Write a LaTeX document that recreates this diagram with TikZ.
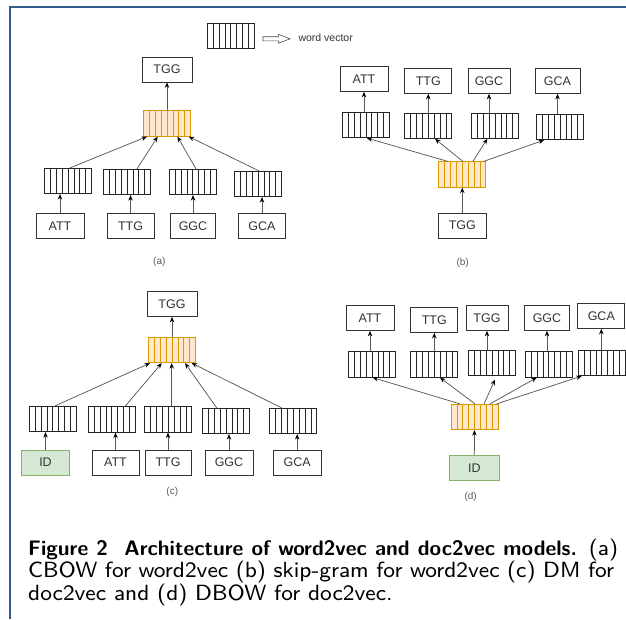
\documentclass[tikz,border=0pt]{standalone}
\usepackage{fontspec}
\newfontfamily\dfont{Liberation Sans}
\newfontfamily\capfont{lmsans8-regular.otf}[BoldFont=lmsans10-bold.otf]
\usetikzlibrary{arrows.meta,calc}
\definecolor{frameBlue}{RGB}{52,92,140}
\definecolor{vecOrange}{RGB}{255,230,204}
\definecolor{vecOrangeLine}{RGB}{215,155,0}
\definecolor{idGreen}{RGB}{213,232,212}
\definecolor{idGreenLine}{RGB}{130,179,102}
\newcommand{\CapBold}[1]{{\fontsize{21}{23}\selectfont\bfseries #1}}
\tikzset{
    cells/.style={path picture={
        \foreach \i in {1,...,7}
            \draw[#1,line width=0.6pt] ($(path picture bounding box.south west)!\i/8!(path picture bounding box.south east)$)
                -- ($(path picture bounding box.north west)!\i/8!(path picture bounding box.north east)$);}},
    wvec/.style={draw=black!85,line width=0.7pt,minimum width=47,minimum height=25.5,inner sep=0pt,cells=black!85},
    ovec/.style={wvec,draw=vecOrangeLine,fill=vecOrange,cells=vecOrangeLine},
    tok/.style={draw=black!80,line width=0.7pt,text=black!80,font=\dfont\fontsize{12.5}{15}\selectfont,minimum width=48,minimum height=25,inner sep=0pt},
    idtok/.style={tok,draw=idGreenLine,fill=idGreen},
    arr/.style={-{Stealth[length=5.5pt,width=4.5pt,black]},black!65,line width=0.75pt},
    sub/.style={text=black!65,font=\dfont\fontsize{10}{12}\selectfont},
    capline/.style={anchor=base west,inner sep=0pt,font=\capfont\fontsize{22}{24}\selectfont}
}
\begin{document}
\begin{tikzpicture}[x=1pt,y=-1pt]
    \useasboundingbox (0,0) rectangle (626,619);
    \draw[frameBlue,line width=1.3pt] (10,619) -- (10,7) -- (626,7);

    % legend
    \node[wvec] (lvec) at (230.7,36) {};
    \draw[black!70,line width=0.6pt] (263,36.7) -- (278.3,36.7) -- (278.3,34.3) -- (290,38.8)
        -- (278.3,43.3) -- (278.3,40.9) -- (263,40.9) -- cycle;
    \node[anchor=west,text=black!80,font=\dfont\fontsize{10.5}{12}\selectfont] (ltxt) at (295,37.5) {word vector};

    % (a) CBOW
    \node[tok,minimum width=50] (aout) at (167,69.5) {TGG};
    \node[ovec] (ahid) at (167,123.5) {};
    \node[wvec] (av1) at (68,181) {};
    \node[wvec] (av2) at (127,182) {};
    \node[wvec] (av3) at (192.7,182) {};
    \node[wvec] (av4) at (258,184) {};
    \node[tok] (ain1) at (60,226) {ATT};
    \node[tok,minimum width=47] (ain2) at (130.5,226) {TTG};
    \node[tok,minimum width=45] (ain3) at (193,226) {GGC};
    \node[tok,minimum width=47] (ain4) at (262,226) {GCA};
    \draw[arr] (ahid) -- (aout);
    \foreach \k in {1,...,4}
        \draw[arr] (ain\k.north) -- (ain\k.north |- av\k.south);
    \draw[arr] ([xshift=2]av1.north) -- ([xshift=-20]ahid.south);
    \draw[arr] ([xshift=10]av2.north) -- ([xshift=-9.3]ahid.south);
    \draw[arr] ([xshift=3.3]av3.north) -- ([xshift=10.4]ahid.south);
    \draw[arr] ([xshift=1]av4.north) -- ([xshift=21.7]ahid.south);
    \node[sub] (alab) at (159.3,261.7) {(a)};

    % (b) skip-gram
    \node[tok] (bin) at (462.3,225.5) {TGG};
    \node[ovec] (bhid) at (462.3,174.5) {};
    \node[wvec] (bv1) at (365.8,125) {};
    \node[wvec] (bv2) at (428.3,125.7) {};
    \node[wvec] (bv3) at (495,125.7) {};
    \node[wvec] (bv4) at (560,127) {};
    \node[tok] (bout1) at (364,79) {ATT};
    \node[tok,minimum width=47] (bout2) at (428.3,81) {TTG};
    \node[tok,minimum width=42] (bout3) at (489,81) {GGC};
    \node[tok,minimum width=45] (bout4) at (557.5,81) {GCA};
    \draw[arr] (bin) -- (bhid);
    \foreach \k in {1,...,4}
        \draw[arr] (bout\k.south |- bv\k.north) -- (bout\k.south);
    \draw[arr] ([xshift=-14.4]bhid.north) -- ([xshift=1]bv1.south);
    \draw[arr] ([xshift=0.6]bhid.north) -- ([xshift=6.7]bv2.south);
    \draw[arr] ([xshift=10.6]bhid.north) -- ([xshift=-7.7]bv3.south);
    \draw[arr] ([xshift=21.3]bhid.north) -- ([xshift=-16]bv4.south);
    \node[sub] (blab) at (462.7,263.3) {(b)};

    % (c) DM
    \node[tok,minimum width=50] (cout) at (172,304) {TGG};
    \node[ovec] (chid) at (172,350) {};
    \node[wvec] (cv1) at (52.7,419) {};
    \node[wvec] (cv2) at (111.7,419.5) {};
    \node[wvec] (cv3) at (168.3,419.5) {};
    \node[wvec] (cv4) at (226,421) {};
    \node[wvec] (cv5) at (293.3,421) {};
    \node[idtok] (cin1) at (45.5,462.5) {ID};
    \node[tok,minimum width=47] (cin2) at (115.5,462.5) {ATT};
    \node[tok,minimum width=46] (cin3) at (168,462.5) {TTG};
    \node[tok] (cin4) at (229,462.5) {GGC};
    \node[tok] (cin5) at (297.2,462.5) {GCA};
    \draw[arr] (chid) -- (cout);
    \foreach \k in {1,...,5}
        \draw[arr] (cin\k.north) -- (cin\k.north |- cv\k.south);
    \draw[arr] ([xshift=2.3]cv1.north) -- ([xshift=-22]chid.south);
    \draw[arr] ([xshift=13.3]cv2.north) -- ([xshift=-10.3]chid.south);
    \draw[arr] ([xshift=3.4]cv3.north) -- ([xshift=-0.3]chid.south);
    \draw[arr] ([xshift=-9.3]cv4.north) -- ([xshift=13]chid.south);
    \draw[arr] ([xshift=-11.6]cv5.north) -- ([xshift=19.7]chid.south);
    \node[sub] (clab) at (172.3,492) {(c)};

    % (d) DBOW
    \node[idtok,minimum width=50] (din) at (474.3,468) {ID};
    \node[ovec] (dhid) at (474.5,417) {};
    \node[wvec] (dv1) at (372,364.5) {};
    \node[wvec] (dv2) at (434.3,364.5) {};
    \node[wvec] (dv3) at (492,363) {};
    \node[wvec] (dv4) at (548.7,364.5) {};
    \node[wvec] (dv5) at (601.7,363) {};
    \node[tok] (dout1) at (370,318) {ATT};
    \node[tok,minimum width=47] (dout2) at (434.3,320) {TTG};
    \node[tok,minimum width=42] (dout3) at (487,318) {TGG};
    \node[tok,minimum width=45] (dout4) at (547,318) {GGC};
    \node[tok,minimum width=47] (dout5) at (601.3,316) {GCA};
    \draw[arr] (din) -- (dhid);
    \foreach \k in {1,...,5}
        \draw[arr] (dout\k.south |- dv\k.north) -- (dout\k.south);
    \draw[arr] ([xshift=-14.5]dhid.north) -- ([xshift=0.7]dv1.south);
    \draw[arr] ([xshift=0.5]dhid.north) -- ([xshift=5.7]dv2.south);
    \draw[arr] ([xshift=9.5]dhid.north) -- ([xshift=3,yshift=-3.5]dv3.south);
    \draw[arr] ([xshift=15.5]dhid.north) -- ([xshift=-12]dv4.south);
    \draw[arr] ([xshift=22]dhid.north) -- ([xshift=-20]dv5.south);
    \node[sub] (dlab) at (470.7,497.3) {(d)};

    % caption
    \node[capline] (cap1) at (28,555) {\makebox[590pt][s]{\CapBold{Figure 2\ \ Architecture of word2vec and doc2vec models.} (a)}};
    \node[capline] (cap2) at (28,577.5) {\makebox[586pt][s]{CBOW for word2vec (b) skip-gram for word2vec (c) DM for}};
    \node[capline] (cap3) at (28,600) {doc2vec and (d) DBOW for doc2vec.};
\end{tikzpicture}
\end{document}
